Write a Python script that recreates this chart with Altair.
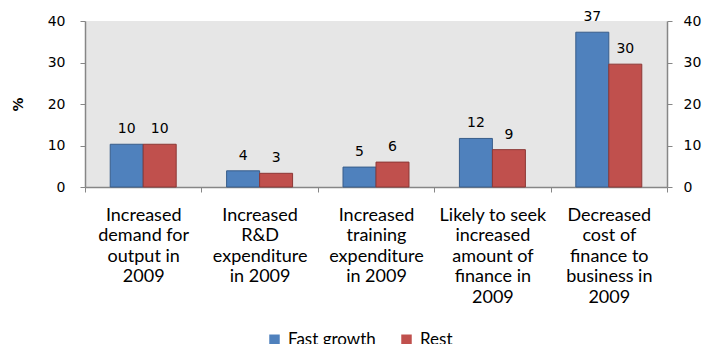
import altair as alt
import pandas as pd

categories = [
    "Increased|demand for|output in|2009",
    "Increased|R&D|expenditure|in 2009",
    "Increased|training|expenditure|in 2009",
    "Likely to seek|increased|amount  of|finance  in|2009",
    "Decreased|cost of|finance to|business in|2009",
]
series = ["Fast growth", "Rest"]
fast_growth = [10.3, 3.9, 4.8, 11.7, 37.3]
rest = [10.3, 3.3, 6.0, 9.0, 29.6]
fill_colors = ["#4F81BD", "#C0504D"]
stroke_colors = ["#385D8A", "#8C3836"]

rows = []
for c, f, r in zip(categories, fast_growth, rest):
    rows.append({"cat": c, "series": series[0], "value": f})
    rows.append({"cat": c, "series": series[1], "value": r})
df = pd.DataFrame(rows)

AX = "#868686"

x = alt.X(
    "cat:N", sort=categories,
    scale=alt.Scale(paddingInner=0, paddingOuter=0),
    axis=alt.Axis(
        title=None, labelAngle=0,
        labelExpr="isValid(datum.value) ? split(datum.value, '|') : ''",
        labelFont="Lato", labelFontSize=18, labelLineHeight=20.5,
        labelColor="black", labelPadding=14, labelBaseline="top",
        labelOverlap=False, labelLimit=200,
        tickBand="extent", tickSize=5, tickColor=AX, domainColor=AX,
        domainWidth=1.5,
    ),
)
xoff = alt.XOffset("series:N", sort=series,
                   scale=alt.Scale(paddingInner=0, paddingOuter=0.764))

ydomain = [0, 40]
tick_vals = [0, 10, 20, 30, 40]

bars = alt.Chart(df).mark_bar(strokeWidth=1).encode(
    x=x,
    xOffset=xoff,
    y=alt.Y("value:Q", scale=alt.Scale(domain=ydomain, nice=False),
            axis=alt.Axis(values=tick_vals, grid=False, title="%",
                          titleFont="DejaVu Sans", titleFontSize=14,
                          titleFontWeight="bold", titleColor="black",
                          titleX=-67, titleY=83, titleAngle=270,
                          titleBaseline="middle", titleAlign="center",
                          labelFont="DejaVu Sans", labelFontSize=14,
                          labelColor="black", labelPadding=15,
                          tickSize=5, tickColor=AX, domainColor=AX,
                          domainWidth=1.5)),
    color=alt.Color("series:N", sort=series,
                    scale=alt.Scale(domain=series, range=fill_colors),
                    legend=alt.Legend(orient="none", legendX=181, legendY=310,
                                      direction="horizontal", title=None,
                                      symbolType="square", symbolSize=110,
                                      symbolStrokeWidth=0,
                                      labelFont="Lato", labelFontSize=17,
                                      labelColor="black",
                                      columnPadding=22, labelOffset=5)),
    stroke=alt.Stroke("series:N", sort=series,
                      scale=alt.Scale(domain=series, range=stroke_colors),
                      legend=None),
)

labels = alt.Chart(df).mark_text(
    dy=-11, baseline="alphabetic", font="DejaVu Sans", fontSize=14, color="black"
).encode(
    x=x,
    xOffset=xoff,
    y=alt.Y("value:Q", scale=alt.Scale(domain=ydomain, nice=False),
            axis=alt.Axis(orient="right", values=tick_vals, grid=False, title=None,
                          labelFont="DejaVu Sans", labelFontSize=14,
                          labelColor="black", labelPadding=11,
                          tickSize=5, tickColor=AX, domainColor=AX,
                          domainWidth=1.5)),
    text=alt.Text("value:Q", format=".0f"),
)

chart = alt.layer(bars, labels).resolve_scale(y="independent").properties(
    width=582, height=166,
    autosize=alt.AutoSizeParams(type="none"),
    padding={"left": 77, "top": 13, "right": 35, "bottom": 160},
).configure_view(fill="#E6E6E6", strokeWidth=0)

chart.save("out.html", embed_options={"renderer": "svg", "actions": False})
